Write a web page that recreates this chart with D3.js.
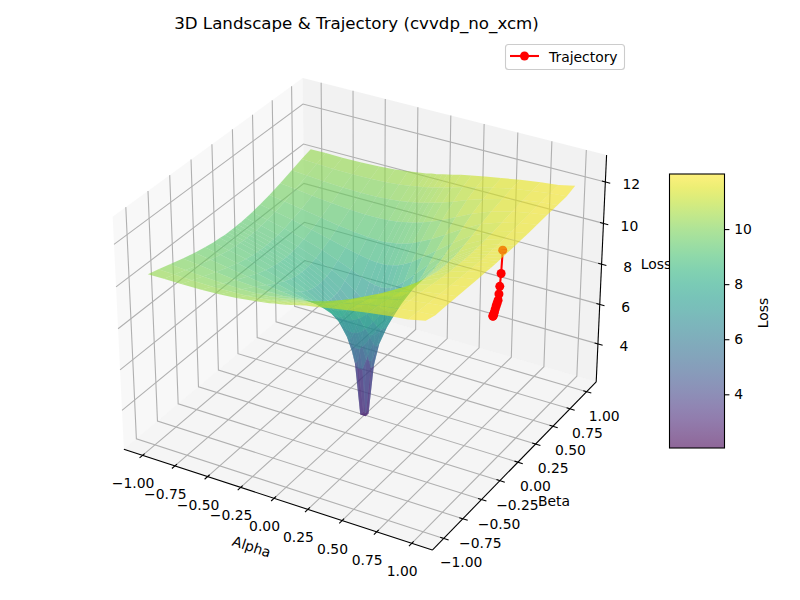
<!DOCTYPE html>
<html>
<head>
<meta charset="utf-8">
<title>3D Landscape & Trajectory</title>
<script src="https://cdn.jsdelivr.net/npm/d3@7"></script>
<style>
    html, body { margin: 0; padding: 0; background: #fff; }
    svg { display: block; }
    text { font-family: "DejaVu Sans", sans-serif; fill: #000; }
</style>
</head>
<body>
<svg id="chart" width="800" height="600"></svg>
<script>
// grid nodes of the surface, finer close to the pit
const alphaNodes = [-1, -0.88, -0.75, -0.6, -0.46, -0.34, -0.24, -0.16, -0.1, -0.06, -0.02,
    0.02, 0.06, 0.1, 0.16, 0.24, 0.34, 0.46, 0.6, 0.75, 0.88, 1];
const betaNodes = [-1, -0.88, -0.75, -0.6, -0.46, -0.34, -0.24, -0.16, -0.1, -0.06, -0.02,
    0.02, 0.06, 0.1, 0.16, 0.24, 0.34, 0.46, 0.6, 0.75, 0.88, 1];

// loss, one row per beta >= 0.02 (the surface looks mirrored in beta)
const lossHalf = [
    [9.45, 9.27, 9.05, 8.73, 8.37, 7.95, 7.46, 6.74, 5.75, 4.6, 2.1, 2.1, 4.6, 5.75, 6.74, 7.78, 8.87, 9.82, 10.65, 11.26, 11.55, 11.72],
    [9.46, 9.28, 9.06, 8.75, 8.39, 7.97, 7.5, 6.86, 6.04, 5.36, 4.6, 4.6, 5.36, 6.04, 6.86, 7.86, 8.91, 9.83, 10.66, 11.27, 11.56, 11.72],
    [9.46, 9.29, 9.07, 8.77, 8.41, 8.02, 7.58, 7.08, 6.45, 6.04, 5.75, 5.75, 6.04, 6.45, 7.08, 8.0, 8.98, 9.87, 10.67, 11.28, 11.57, 11.72],
    [9.49, 9.32, 9.11, 8.82, 8.49, 8.13, 7.77, 7.4, 7.08, 6.86, 6.74, 6.74, 6.86, 7.08, 7.56, 8.29, 9.13, 9.95, 10.72, 11.29, 11.57, 11.72],
    [9.53, 9.37, 9.17, 8.91, 8.63, 8.34, 8.08, 7.85, 7.7, 7.64, 7.61, 7.63, 7.73, 7.88, 8.21, 8.73, 9.38, 10.09, 10.81, 11.32, 11.58, 11.74],
    [9.61, 9.46, 9.29, 9.07, 8.85, 8.65, 8.49, 8.4, 8.36, 8.36, 8.38, 8.44, 8.52, 8.64, 8.86, 9.23, 9.73, 10.32, 10.93, 11.37, 11.61, 11.75],
    [9.72, 9.6, 9.46, 9.3, 9.15, 9.05, 8.98, 8.97, 8.98, 9.02, 9.06, 9.12, 9.2, 9.3, 9.48, 9.74, 10.13, 10.61, 11.11, 11.45, 11.65, 11.78],
    [9.88, 9.8, 9.69, 9.59, 9.52, 9.48, 9.48, 9.52, 9.56, 9.61, 9.66, 9.72, 9.8, 9.88, 10.02, 10.24, 10.54, 10.92, 11.28, 11.54, 11.7, 11.81],
    [10.08, 10.02, 9.96, 9.91, 9.89, 9.9, 9.95, 10.01, 10.07, 10.12, 10.17, 10.23, 10.3, 10.37, 10.49, 10.67, 10.92, 11.17, 11.42, 11.63, 11.75, 11.84],
    [10.26, 10.23, 10.19, 10.18, 10.2, 10.23, 10.29, 10.37, 10.43, 10.48, 10.53, 10.59, 10.66, 10.73, 10.83, 10.99, 11.15, 11.34, 11.54, 11.68, 11.8, 11.86],
    [10.4, 10.41, 10.4, 10.41, 10.45, 10.51, 10.59, 10.66, 10.72, 10.78, 10.82, 10.88, 10.94, 11.0, 11.1, 11.19, 11.32, 11.45, 11.6, 11.74, 11.83, 12.0]
];
const lossGrid = [...lossHalf.slice().reverse(), ...lossHalf];

// trajectory, start first
const trajAlpha = [1.0, 0.993, 0.986, 0.9815, 0.9765, 0.97, 0.964, 0.958, 0.953, 0.948, 0.945, 0.944, 0.943];
const trajBeta = [-0.01, -0.01, -0.01, -0.01, -0.01, -0.01, -0.01, -0.01, -0.01, -0.01, -0.01, -0.01, -0.01];
const trajLoss = [12.05, 10.95, 10.33, 9.96, 9.66, 9.5, 9.36, 9.2, 9.05, 8.95, 8.88, 8.85, 8.83];

const abTicks = [-1, -0.75, -0.5, -0.25, 0, 0.25, 0.5, 0.75, 1];
const abTickLabels = ["\u22121.00", "\u22120.75", "\u22120.50", "\u22120.25", "0.00", "0.25", "0.50", "0.75", "1.00"];
const lossTicks = [4, 6, 8, 10, 12];
const barTicks = [4, 6, 8, 10];

const lossMin = 2.05, lossMax = 12;
const zLow = 2.05, zHigh = 13.28;
const abLim = 1.1458;

const svg = d3.select("#chart");

// box coordinates, centred on the middle of the 4:4:3 box
const xScale = d3.scaleLinear().domain([-abLim, abLim]).range([-0.5953, 0.5953]);
const yScale = d3.scaleLinear().domain([-abLim, abLim]).range([-0.5953, 0.5953]);
const zScale = d3.scaleLinear().domain([zLow, zHigh]).range([-0.4465, 0.4465]);
const colour = d3.scaleSequential(d3.interpolateViridis).domain([lossMin, lossMax]);

// camera for elev 30, azim -60, distance 10
const camU = [0.866, 0.5, 0];
const camV = [-0.25, 0.433, 0.866];
const camW = [0.433, -0.75, 0.5];
const dot = (a, b) => a[0] * b[0] + a[1] * b[1] + a[2] * b[2];

function depth(x, y, z) {
    return dot([xScale(x), yScale(y), zScale(z)], camW);
}

function project(x, y, z) {
    const p = [xScale(x), yScale(y), zScale(z)];
    const d = 10 - dot(p, camW);
    return [364.4 + 2968 * dot(p, camU) / d, 302.7 - 2968 * dot(p, camV) / d];
}

const line3d = d3.line();
const poly = pts => line3d(pts.map(p => project(p[0], p[1], p[2]))) + "Z";
const path3d = pts => line3d(pts.map(p => project(p[0], p[1], p[2])));

const L = abLim;

// panes
const panes = [
    { pts: [[-L, -L, zLow], [-L, L, zLow], [-L, L, zHigh], [-L, -L, zHigh]], fill: "rgb(242,242,242)" },
    { pts: [[-L, L, zLow], [L, L, zLow], [L, L, zHigh], [-L, L, zHigh]], fill: "rgb(230,230,230)" },
    { pts: [[-L, -L, zLow], [L, -L, zLow], [L, L, zLow], [-L, L, zLow]], fill: "rgb(236,236,236)" }
];
svg.append("g").selectAll("path").data(panes).enter().append("path")
    .attr("d", d => poly(d.pts))
    .attr("fill", d => d.fill)
    .attr("fill-opacity", 0.5);

// grid lines
const gridLines = [
    ...abTicks.map(t => [[t, -L, zLow], [t, L, zLow], [t, L, zHigh]]),
    ...abTicks.map(t => [[L, t, zLow], [-L, t, zLow], [-L, t, zHigh]]),
    ...lossTicks.map(t => [[-L, -L, t], [-L, L, t], [L, L, t]])
];
svg.append("g").selectAll("path").data(gridLines).enter().append("path")
    .attr("d", path3d)
    .attr("fill", "none")
    .attr("stroke", "#b0b0b0")
    .attr("stroke-width", 1.1);

// axis lines and ticks
const axisLines = [
    [[-L, -L, zLow], [L, -L, zLow]],
    [[L, -L, zLow], [L, L, zLow]],
    [[L, L, zLow], [L, L, zHigh]]
];
const tickOut = 0.035, tickIn = 0.025;
const tickLines = [
    ...abTicks.map(t => [[t, -L - tickOut, zLow], [t, -L + tickIn, zLow]]),
    ...abTicks.map(t => [[L + tickOut, t, zLow], [L - tickIn, t, zLow]]),
    ...lossTicks.map(t => [[L + tickOut, L, t], [L - tickIn, L, t]])
];
svg.append("g").selectAll("path").data([...axisLines, ...tickLines]).enter().append("path")
    .attr("d", path3d)
    .attr("fill", "none")
    .attr("stroke", "#000")
    .attr("stroke-width", 1.1);

// tick labels
function tickLabels(data, pos, labels, dx, dy) {
    svg.append("g").selectAll("text").data(data).enter().append("text")
        .attr("x", d => pos(d)[0] + dx)
        .attr("y", d => pos(d)[1] + dy)
        .attr("text-anchor", "middle")
        .attr("dominant-baseline", "central")
        .attr("font-size", 13.9)
        .text((d, i) => labels[i]);
}
tickLabels(abTicks, t => project(t, -L, zLow), abTickLabels, -9.5, 28);
tickLabels(abTicks, t => project(L, t, zLow), abTickLabels, 17.5, 24);
tickLabels(lossTicks, t => project(L, L, t), lossTicks.map(String), 26, 2.5);

// axis titles
svg.append("text").attr("transform", "translate(251.7,546.7) rotate(18)")
    .attr("text-anchor", "middle").attr("dominant-baseline", "central")
    .attr("font-size", 13.9).text("Alpha");
svg.append("text").attr("x", 554).attr("y", 501)
    .attr("text-anchor", "middle").attr("dominant-baseline", "central")
    .attr("font-size", 13.9).text("Beta");
svg.append("text").attr("x", 656).attr("y", 264)
    .attr("text-anchor", "middle").attr("dominant-baseline", "central")
    .attr("font-size", 13.9).text("Loss");

// trajectory goes under the surface
const trajPts = trajAlpha.map((a, i) => project(a, trajBeta[i], trajLoss[i]));
svg.append("path")
    .attr("d", line3d(trajPts))
    .attr("fill", "none")
    .attr("stroke", "#f00")
    .attr("stroke-width", 2.08);
svg.append("g").selectAll("circle").data(trajPts).enter().append("circle")
    .attr("cx", d => d[0])
    .attr("cy", d => d[1])
    .attr("r", 4.5)
    .attr("fill", "#f00");

// surface facets, far ones first
const facets = [];
for (let j = 0; j < betaNodes.length - 1; j++) {
    for (let i = 0; i < alphaNodes.length - 1; i++) {
        const corners = [[i, j], [i + 1, j], [i + 1, j + 1], [i, j + 1]]
            .map(c => [alphaNodes[c[0]], betaNodes[c[1]], lossGrid[c[1]][c[0]]]);
        facets.push({
            corners: corners,
            mean: d3.mean(corners, c => c[2]),
            depth: d3.mean(corners, c => depth(c[0], c[1], c[2]))
        });
    }
}
facets.sort((a, b) => d3.ascending(a.depth, b.depth));
svg.append("g").selectAll("path").data(facets).enter().append("path")
    .attr("d", d => poly(d.corners))
    .attr("fill", d => colour(d.mean))
    .attr("fill-opacity", 0.6);

// title
svg.append("text").attr("x", 356.5).attr("y", 23)
    .attr("text-anchor", "middle").attr("dominant-baseline", "central")
    .attr("font-size", 16.67).text("3D Landscape & Trajectory (cvvdp_no_xcm)");

// legend
const legend = svg.append("g");
legend.append("rect").attr("x", 505.5).attr("y", 44.5).attr("width", 119).attr("height", 25).attr("rx", 3)
    .attr("fill", "#fff").attr("fill-opacity", 0.8).attr("stroke", "#ccc").attr("stroke-width", 1.1);
legend.append("line").attr("x1", 510).attr("x2", 539).attr("y1", 56).attr("y2", 56)
    .attr("stroke", "#f00").attr("stroke-width", 2.08);
legend.append("circle").attr("cx", 524.5).attr("cy", 56).attr("r", 4.5).attr("fill", "#f00");
legend.append("text").attr("x", 549).attr("y", 56.5).attr("dominant-baseline", "central")
    .attr("font-size", 13.9).text("Trajectory");

// colour bar
const barY = d3.scaleLinear().domain([lossMin, lossMax]).range([448, 174]);
const defs = svg.append("defs");
const grad = defs.append("linearGradient").attr("id", "barGrad")
    .attr("x1", 0).attr("x2", 0).attr("y1", 1).attr("y2", 0);
d3.range(0, 1.0001, 0.05).forEach(f => {
    grad.append("stop").attr("offset", f)
        .attr("stop-color", d3.interpolateViridis(f))
        .attr("stop-opacity", 0.6);
});
svg.append("rect").attr("x", 669.5).attr("y", 174).attr("width", 55).attr("height", 274)
    .attr("fill", "#fff");
svg.append("rect").attr("x", 669.5).attr("y", 174).attr("width", 55).attr("height", 274)
    .attr("fill", "url(#barGrad)").attr("stroke", "#000").attr("stroke-width", 1.1);
const barAxis = svg.append("g").attr("transform", "translate(724.5,0)")
    .call(d3.axisRight(barY).tickValues(barTicks).tickSize(4.9).tickPadding(4.8).tickFormat(d3.format("d")));
barAxis.select(".domain").remove();
barAxis.selectAll("line").attr("stroke", "#000").attr("stroke-width", 1.1);
barAxis.selectAll("text").attr("font-size", 13.9).attr("font-family", "DejaVu Sans");
svg.append("text").attr("transform", "translate(763,313) rotate(-90)")
    .attr("text-anchor", "middle").attr("dominant-baseline", "central")
    .attr("font-size", 13.9).text("Loss");
</script>
</body>
</html>
